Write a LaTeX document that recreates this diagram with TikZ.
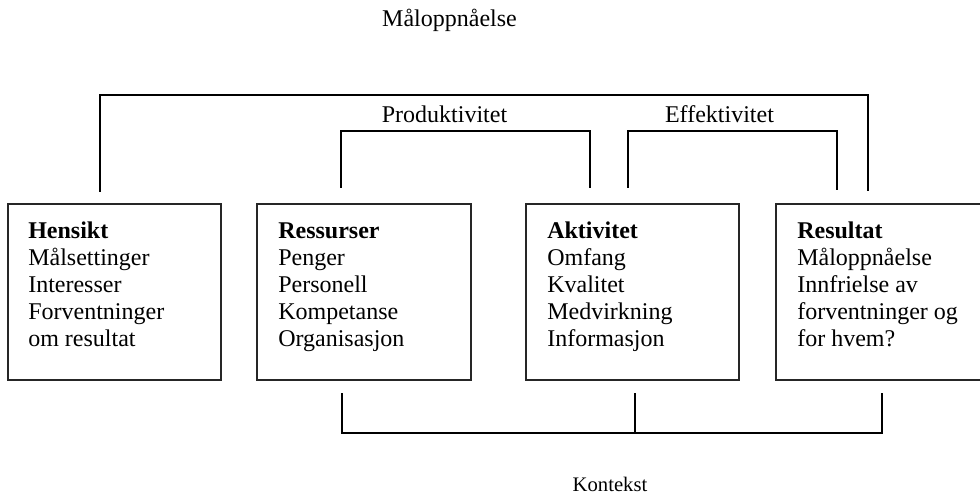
\documentclass[tikz,border=0pt]{standalone}
\usepackage{fontspec}
\setmainfont{Liberation Serif}
\begin{document}
\begin{tikzpicture}[x=0.75pt,y=-0.75pt,
  box/.style={draw=black!85, line width=1pt, rectangle, inner sep=0pt, minimum height=132pt},
  boxtext/.style={anchor=base west, inner sep=0pt, font=\fontsize{18}{20.25}\selectfont},
  lbl/.style={anchor=base, inner sep=0pt, font=\fontsize{18}{20.25}\selectfont},
  link/.style={draw=black, line width=1.3pt}]
\useasboundingbox (0,0) rectangle (980,498);
\clip (0,0) rectangle (980,498);
% boxes
\node[box, minimum width=159.75pt] (b1) at (114.5,292) {};
\node[box, minimum width=160.5pt] (b2) at (364,292) {};
\node[box, minimum width=159.75pt] (b3) at (632.5,292) {};
\node[box, minimum width=164.25pt] (b4) at (885.5,292) {};
% box texts
\node[boxtext] (t1) at (28,239) {\begin{tabular}[t]{@{}l@{}}\textbf{Hensikt}\\Målsettinger\\Interesser\\Forventninger\\om resultat\end{tabular}};
\node[boxtext] (t2) at (278,239) {\begin{tabular}[t]{@{}l@{}}\textbf{Ressurser}\\Penger\\Personell\\Kompetanse\\Organisasjon\end{tabular}};
\node[boxtext] (t3) at (547,239) {\begin{tabular}[t]{@{}l@{}}\textbf{Aktivitet}\\Omfang\\Kvalitet\\Medvirkning\\Informasjon\end{tabular}};
\node[boxtext] (t4) at (797,239) {\begin{tabular}[t]{@{}l@{}}\textbf{Resultat}\\Måloppnåelse\\Innfrielse av\\forventninger og\\for hvem?\end{tabular}};
% labels
\node[lbl] (lm) at (449.5,27) {Måloppnåelse};
\node[lbl] (lp) at (444.5,123) {Produktivitet};
\node[lbl] (le) at (719.5,123) {Effektivitet};
\node[lbl, font=\fontsize{15.5}{18}\selectfont] (lk) at (610,491) {Kontekst};
% connector end points
\coordinate (m1) at (100,192);
\coordinate (m2) at (868,191);
\coordinate (p1) at (341,188);
\coordinate (p2) at (590,188);
\coordinate (e1) at (628,188);
\coordinate (e2) at (837,190);
\coordinate (k1) at (342,393);
\coordinate (k2) at (635,393);
\coordinate (k3) at (882,393);
% brackets
\draw[link] (m1) -- (m1 |- 0,95) -- (m2 |- 0,95) -- (m2);
\draw[link] (p1) -- (p1 |- 0,131) -- (p2 |- 0,131) -- (p2);
\draw[link] (e1) -- (e1 |- 0,131) -- (e2 |- 0,131) -- (e2);
\draw[link] (k1) -- (k1 |- 0,433) -- (k3 |- 0,433) -- (k3);
\draw[link] (k2) -- (k2 |- 0,433);
\end{tikzpicture}
\end{document}
